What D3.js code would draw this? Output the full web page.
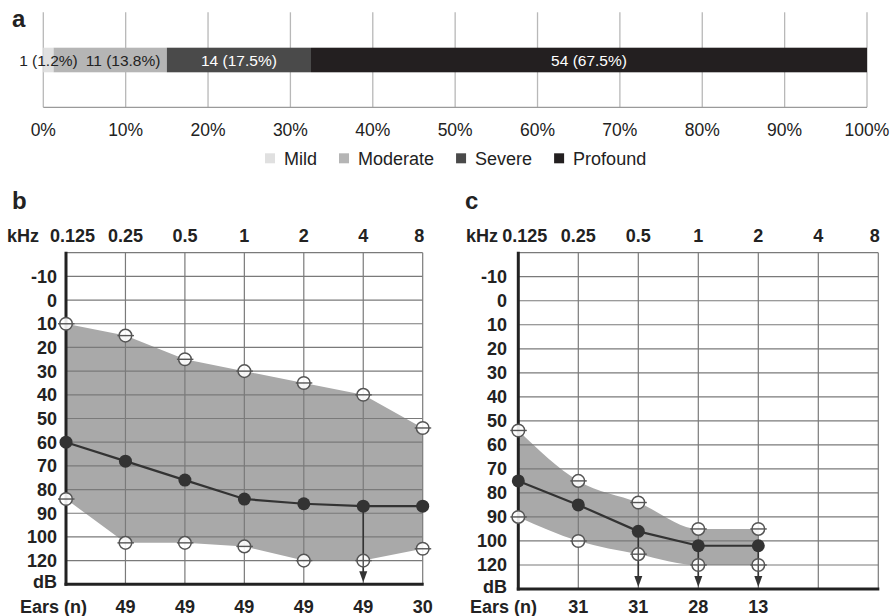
<!DOCTYPE html>
<html>
<head>
<meta charset="utf-8">
<script src="https://cdn.jsdelivr.net/npm/d3@7"></script>
<style>
  html, body { margin: 0; padding: 0; background: #fff; }
  svg { display: block; font-family: "Liberation Sans", Arial, sans-serif; }
</style>
</head>
<body>
<svg id="chart" width="895" height="616"></svg>
<script>
// ---------- Panel a data ----------
const severityCategories = ["Mild", "Moderate", "Severe", "Profound"];
const severityCounts = [1, 11, 14, 54];
const severityPercents = [1.25, 13.75, 17.5, 67.5];
const severityLabels = ["1 (1.2%)", "11 (13.8%)", "14 (17.5%)", "54 (67.5%)"];
const severityColors = ["#e0e0e0", "#b5b5b5", "#4a4a4a", "#231f20"];
const percentTicks = [0, 10, 20, 30, 40, 50, 60, 70, 80, 90, 100];

// ---------- Audiogram common ----------
const freqs = [0.125, 0.25, 0.5, 1, 2, 4, 8];
const freqLabels = ["0.125", "0.25", "0.5", "1", "2", "4", "8"];
const dbTicks = [-10, 0, 10, 20, 30, 40, 50, 60, 70, 80, 90, 100, 120];
const dbGrid = [-20, -10, 0, 10, 20, 30, 40, 50, 60, 70, 80, 90, 100, 120, 130];

// ---------- Panel b data ----------
const bFreqs = [0.125, 0.25, 0.5, 1, 2, 4, 8];
const bUpper = [10, 15, 25, 30, 35, 40, 54];
const bMedian = [60, 68, 76, 84, 86, 87, 87];
const bLower = [84, 105, 105, 108, 120, 120, 110];
const bEarFreqs = [0.25, 0.5, 1, 2, 4, 8];
const bEars = [49, 49, 49, 49, 49, 30];
const bArrows = [4];

// ---------- Panel c data ----------
const cFreqs = [0.125, 0.25, 0.5, 1, 2];
const cUpper = [54, 75, 84, 95, 95];
const cMedian = [75, 85, 96, 104, 104];
const cLower = [90, 100, 111, 120, 120];
const cEarFreqs = [0.25, 0.5, 1, 2];
const cEars = [31, 31, 28, 13];
const cArrows = [0.5, 1, 2];

const svg = d3.select("#chart");
const DARK = "#222";

// ================= Panel a =================
(function panelA() {
  const x = d3.scaleLinear().domain([0, 100]).range([43.3, 867]);
  const g = svg.append("g");
  const gridTop = 12.3, axisY = 107.3, barY = 47.7, barH = 24.6;

  g.append("text").attr("x", 12).attr("y", 27).attr("font-size", 24)
    .attr("font-weight", "bold").attr("fill", DARK).text("a");

  g.selectAll("line.grid").data(percentTicks).join("line")
    .attr("x1", d => x(d)).attr("x2", d => x(d))
    .attr("y1", gridTop).attr("y2", axisY)
    .attr("stroke", "#b8b8b8").attr("stroke-width", 1.3);

  g.append("line").attr("x1", x(0)).attr("x2", x(100))
    .attr("y1", axisY).attr("y2", axisY)
    .attr("stroke", "#9a9a9a").attr("stroke-width", 1.3);

  g.selectAll("text.tick").data(percentTicks).join("text")
    .attr("x", d => x(d)).attr("y", 136).attr("text-anchor", "middle")
    .attr("font-size", 17.5).attr("fill", DARK).text(d => d + "%");

  const starts = [];
  let acc = 0;
  severityPercents.forEach(p => { starts.push(acc); acc += p; });

  g.selectAll("rect.seg").data(severityPercents).join("rect")
    .attr("x", (d, i) => x(starts[i])).attr("y", barY)
    .attr("width", d => x(d) - x(0)).attr("height", barH)
    .attr("fill", (d, i) => severityColors[i]);

  const labels = g.selectAll("text.seglab").data(severityLabels).join("text")
    .attr("y", 65.5).attr("text-anchor", "middle").attr("font-size", 15.5)
    .attr("fill", (d, i) => i < 2 ? DARK : "#fff").text(d => d);
  // place each label at its segment centre, pushed right if it would overlap its neighbour
  let prevRight = -Infinity;
  labels.each(function (d, i) {
    const w = this.getComputedTextLength();
    let cx = x(starts[i] + severityPercents[i] / 2);
    cx = Math.max(cx, prevRight + 8 + w / 2);
    d3.select(this).attr("x", cx);
    prevRight = cx + w / 2;
  });

  // legend
  let lx = 265;
  severityCategories.forEach((name, i) => {
    g.append("rect").attr("x", lx).attr("y", 153.3).attr("width", 10).attr("height", 10)
      .attr("fill", severityColors[i]);
    const t = g.append("text").attr("x", lx + 19).attr("y", 164.5)
      .attr("font-size", 18).attr("fill", DARK).text(name);
    lx = lx + 19 + t.node().getComputedTextLength() + 22;
  });
})();

// ================= Audiogram panels =================
function audiogram(opt) {
  const g = svg.append("g");
  const x = d3.scaleLog().base(2).domain([0.125, 8]).range([opt.left, opt.right]);
  const row = (opt.bottom - opt.top) / 14;
  const y = d3.scaleLinear()
    .domain([-20, 100, 120, 130])
    .range([opt.top, opt.top + 12 * row, opt.top + 13 * row, opt.bottom]);

  g.append("text").attr("x", opt.letterX).attr("y", 209).attr("font-size", 24)
    .attr("font-weight", "bold").attr("fill", DARK).text(opt.letter);

  // shaded range
  const pts = opt.freqs.map((f, i) => ({ f, u: opt.upper[i], l: opt.lower[i] }));
  const area = d3.area().x(d => x(d.f)).y0(d => y(d.l)).y1(d => y(d.u)).curve(opt.curve);
  g.append("path").datum(pts).attr("d", area).attr("fill", "#a9a9a9");

  // grid
  g.selectAll("line.h").data(dbGrid.slice(0, -1)).join("line")
    .attr("x1", opt.left).attr("x2", opt.right)
    .attr("y1", d => y(d)).attr("y2", d => y(d))
    .attr("stroke", "#7a7a7a").attr("stroke-width", 1.2);
  g.selectAll("line.v").data(freqs.slice(1)).join("line")
    .attr("x1", d => x(d)).attr("x2", d => x(d))
    .attr("y1", opt.top).attr("y2", opt.bottom)
    .attr("stroke", "#7a7a7a").attr("stroke-width", 1.2);

  // thick axes
  g.append("line").attr("x1", opt.left).attr("x2", opt.left)
    .attr("y1", opt.top - 1).attr("y2", opt.bottom + 1.5)
    .attr("stroke", DARK).attr("stroke-width", 3);
  g.append("line").attr("x1", opt.left - 1.5).attr("x2", opt.right + 1)
    .attr("y1", opt.bottom).attr("y2", opt.bottom)
    .attr("stroke", DARK).attr("stroke-width", 3);

  // top frequency labels
  g.append("text").attr("x", opt.kHzX).attr("y", 242).attr("font-size", 18)
    .attr("font-weight", "bold").attr("fill", DARK).text("kHz");
  g.selectAll("text.fl").data(freqLabels).join("text")
    .attr("x", (d, i) => x(freqs[i]) + (i === 0 ? 6.5 : (i === freqs.length - 1 ? -3.5 : 0)))
    .attr("y", 242).attr("text-anchor", "middle").attr("font-size", 18)
    .attr("font-weight", "bold").attr("fill", DARK).text(d => d);

  // y labels
  g.selectAll("text.yl").data(dbTicks).join("text")
    .attr("x", opt.labelRight).attr("y", d => y(d) + 6.5).attr("text-anchor", "end")
    .attr("font-size", 18).attr("font-weight", "bold").attr("fill", DARK).text(d => d);
  g.append("text").attr("x", opt.labelRight).attr("y", y(130) + 4)
    .attr("text-anchor", "end").attr("font-size", 18).attr("font-weight", "bold")
    .attr("fill", DARK).text("dB");

  // ears row
  g.append("text").attr("x", opt.earsX).attr("y", 613).attr("font-size", 18)
    .attr("font-weight", "bold").attr("fill", DARK).text("Ears (n)");
  g.selectAll("text.ear").data(opt.ears).join("text")
    .attr("x", (d, i) => x(opt.earFreqs[i])).attr("y", 613).attr("text-anchor", "middle")
    .attr("font-size", 18).attr("font-weight", "bold").attr("fill", DARK).text(d => d);

  // arrows
  opt.arrows.forEach(f => {
    const i = opt.freqs.indexOf(f);
    const cx = x(f), tip = opt.bottom - 2;
    g.append("line").attr("x1", cx).attr("x2", cx).attr("y1", y(opt.median[i])).attr("y2", tip - 8)
      .attr("stroke", "#333").attr("stroke-width", 1.6);
    g.append("path").attr("d", `M${cx - 4},${tip - 11} L${cx + 4},${tip - 11} L${cx},${tip} Z`)
      .attr("fill", "#333");
  });

  // median line
  const line = d3.line().x((d, i) => x(opt.freqs[i])).y(d => y(d));
  g.append("path").datum(opt.median).attr("d", line).attr("fill", "none")
    .attr("stroke", "#333").attr("stroke-width", 2.2);

  // open circles (range bounds)
  const open = opt.freqs.flatMap((f, i) => [{ f, v: opt.upper[i] }, { f, v: opt.lower[i] }]);
  const og = g.selectAll("g.open").data(open).join("g")
    .attr("transform", d => `translate(${x(d.f)},${y(d.v)})`);
  og.append("circle").attr("r", 6.3).attr("fill", "#fff").attr("fill-opacity", 0.9)
    .attr("stroke", "#555").attr("stroke-width", 1.5);
  og.append("line").attr("x1", -8).attr("x2", 8.5).attr("stroke", "#555").attr("stroke-width", 1.4);
  opt.arrows.forEach(f => {
    og.filter(d => d.f === f && d.v === opt.lower[opt.freqs.indexOf(f)])
      .append("line").attr("y1", -6.3).attr("y2", 6.3).attr("stroke", "#555").attr("stroke-width", 1.4);
  });

  // filled circles (median)
  g.selectAll("circle.med").data(opt.median).join("circle")
    .attr("cx", (d, i) => x(opt.freqs[i])).attr("cy", d => y(d)).attr("r", 6.5)
    .attr("fill", "#333");
}

audiogram({
  letter: "b", letterX: 12, kHzX: 7, earsX: 20, labelRight: 57,
  left: 66, right: 422.7, top: 252.7, bottom: 584.3,
  freqs: bFreqs, upper: bUpper, median: bMedian, lower: bLower,
  ears: bEars, earFreqs: bEarFreqs, arrows: bArrows, curve: d3.curveLinear
});
audiogram({
  letter: "c", letterX: 465, kHzX: 466, earsX: 470, labelRight: 507,
  left: 518.3, right: 878.3, top: 252.7, bottom: 589,
  freqs: cFreqs, upper: cUpper, median: cMedian, lower: cLower,
  ears: cEars, earFreqs: cEarFreqs, arrows: cArrows, curve: d3.curveMonotoneX
});
</script>
</body>
</html>
